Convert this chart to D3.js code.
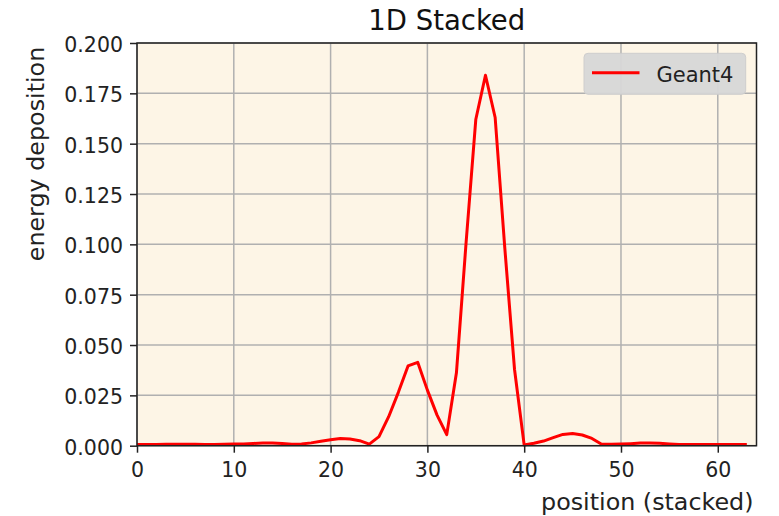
<!DOCTYPE html>
<html><head><meta charset="utf-8">
<script src="https://cdn.jsdelivr.net/npm/d3@7"></script>
<style>body{margin:0;background:#fff;} text{font-family:"DejaVu Sans",sans-serif;}</style>
</head><body>
<svg id="c" width="779" height="516"></svg>
<script>
const positions = d3.range(0, 64);
const energy = [
0.0006,0.0006,0.0006,0.0007,0.0007,0.0007,0.0007,0.0006,0.0006,0.0007,
0.0008,0.0009,0.0011,0.0013,0.0013,0.0011,0.0007,0.0009,0.0014,0.0022,
0.0030,0.0036,0.0033,0.0025,0.0008,0.0045,0.0144,0.0265,0.0396,0.0414,
0.0276,0.0152,0.0055,0.0362,0.1010,0.1620,0.1840,0.1630,0.0980,0.0380,
0.0003,0.0012,0.0023,0.0040,0.0056,0.0061,0.0053,0.0036,0.0007,0.0007,
0.0008,0.0010,0.0013,0.0014,0.0012,0.0009,0.0006,0.0006,0.0006,0.0006,
0.0006,0.0006,0.0006,0.0006];
const xTicks = [0,10,20,30,40,50,60];
const yTicks = [0,0.025,0.05,0.075,0.1,0.125,0.15,0.175,0.2];
const seriesName = "Geant4";

const L=137, R=756.5, T=43, B=445.7;
const svg = d3.select("#c");
const x = d3.scaleLinear().domain([0,64]).range([L,R]);
const y = d3.scaleLinear().domain([0,0.2]).range([B,T]);

svg.append("rect").attr("x",L).attr("y",T).attr("width",R-L).attr("height",B-T).attr("fill","#fdf5e6");
const g = svg.append("g");
g.selectAll(".vg").data(xTicks).join("line").attr("x1",d=>x(d)).attr("x2",d=>x(d)).attr("y1",T).attr("y2",B).attr("stroke","#b0b0b0").attr("stroke-width",1.5);
g.selectAll(".hg").data(yTicks).join("line").attr("y1",d=>y(d)).attr("y2",d=>y(d)).attr("x1",L).attr("x2",R).attr("stroke","#b0b0b0").attr("stroke-width",1.5);

const line = d3.line().x((d,i)=>x(positions[i])).y(d=>y(d));
svg.append("path").datum(energy).attr("d",line).attr("fill","none").attr("stroke","#ff0000").attr("stroke-width",3).attr("stroke-linejoin","round");

const xa = svg.append("g").attr("transform",`translate(0,${B})`).call(d3.axisBottom(x).tickValues(xTicks).tickFormat(d3.format("d")).tickSize(7).tickPadding(10));
const ya = svg.append("g").attr("transform",`translate(${L},0)`).call(d3.axisLeft(y).tickValues(yTicks).tickFormat(d3.format(".3f")).tickSize(7).tickPadding(7));
[xa,ya].forEach(a=>{a.select(".domain").remove();a.selectAll("text").attr("font-size",20.5).attr("fill","#222").style("font-family","DejaVu Sans");a.selectAll("line").attr("stroke","#222").attr("stroke-width",1.5);});
ya.selectAll("text").attr("dy","0.42em");

svg.append("rect").attr("x",L).attr("y",T).attr("width",R-L).attr("height",B-T).attr("fill","none").attr("stroke","#222").attr("stroke-width",1.5);

svg.append("text").attr("x",(L+R)/2).attr("y",30).attr("text-anchor","middle").attr("font-size",27.5).attr("fill","#111").text("1D Stacked");
svg.append("text").attr("x",753.5).attr("y",510).attr("text-anchor","end").attr("font-size",23.8).attr("fill","#222").text("position (stacked)");
svg.append("text").attr("transform",`translate(44,154) rotate(-90)`).attr("text-anchor","middle").attr("font-size",23.8).attr("fill","#222").text("energy deposition");

const lg = svg.append("g");
lg.append("rect").attr("x",584).attr("y",53.3).attr("width",161.7).attr("height",41).attr("rx",4).attr("fill","#d8d8d8").attr("stroke","#cccccc").attr("opacity",0.95);
lg.append("line").attr("x1",592).attr("x2",639.5).attr("y1",72.7).attr("y2",72.7).attr("stroke","#ff0000").attr("stroke-width",3);
lg.append("text").attr("x",656.5).attr("y",81.7).attr("font-size",21).attr("fill","#222").text(seriesName);
</script>
</body></html>
